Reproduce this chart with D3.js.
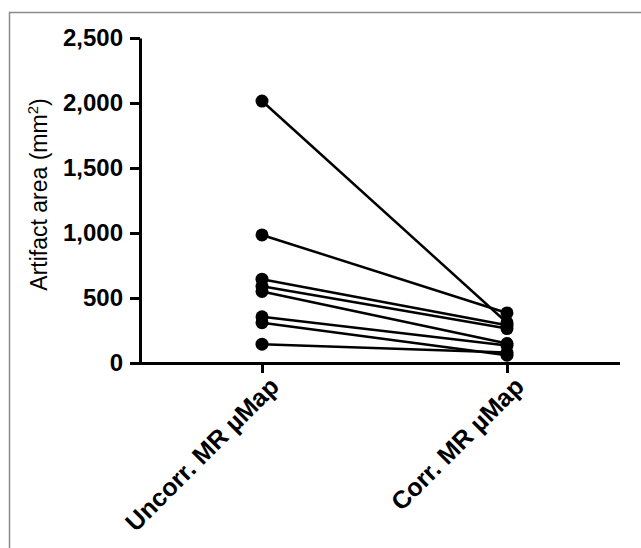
<!DOCTYPE html>
<html>
<head>
<meta charset="utf-8">
<script src="https://cdn.jsdelivr.net/npm/d3@7"></script>
<style>
  body { margin: 0; background: #fff; }
  svg { display: block; font-family: 'Liberation Sans', Arial, Helvetica, sans-serif; }
</style>
</head>
<body>
<svg id="chart" width="641" height="548"></svg>
<script>
const groups = ['Uncorr. MR \u00b5Map', 'Corr. MR \u00b5Map'];
const uncorr = [2015, 985, 645, 590, 550, 355, 310, 145];
const corr = [310, 385, 290, 265, 150, 135, 60, 80];
const yTicks = [0, 500, 1000, 1500, 2000, 2500];

const svg = d3.select('#chart');
const margin = { top: 38, left: 140, bottom: 185, right: 11 };
const width = +svg.attr('width') - margin.left - margin.right;
const height = +svg.attr('height') - margin.top - margin.bottom;

// frame
svg.append('path')
  .attr('d', 'M9.5,548 V12.5 H641')
  .attr('fill', 'none')
  .attr('stroke', '#8a8a8a')
  .attr('stroke-width', 1.5);

const g = svg.append('g').attr('transform', `translate(${margin.left},${margin.top})`);

const x = d3.scalePoint()
  .domain(groups)
  .range([122, 367]);

const y = d3.scaleLinear()
  .domain([0, 2500])
  .range([height, 0]);

const pairs = uncorr.map((v, i) => [v, corr[i]]);

// axes
const yAxis = g.append('g')
  .call(d3.axisLeft(y).tickValues(yTicks).tickFormat(d3.format(',')).tickSize(10).tickSizeOuter(0));
yAxis.select('.domain').attr('stroke-width', 3);
yAxis.selectAll('.tick line').attr('stroke-width', 3);
yAxis.selectAll('.tick text')
  .attr('font-size', 24)
  .attr('font-weight', 'bold')
  .attr('fill', '#000')
  .attr('x', -17);

const xAxis = g.append('g')
  .attr('transform', `translate(0,${height})`)
  .call(d3.axisBottom(x).tickSize(10).tickSizeOuter(0));
xAxis.select('.domain').attr('d', `M0,0.5H${width - 10}`).attr('stroke-width', 3);
xAxis.selectAll('.tick line').attr('stroke-width', 3);
xAxis.selectAll('.tick text')
  .attr('font-size', 25)
  .attr('font-weight', 'bold')
  .attr('fill', '#000')
  .attr('text-anchor', 'end')
  .attr('x', 0)
  .attr('y', 0)
  .attr('dy', 0)
  .attr('transform', 'translate(18,25) rotate(-45)');

// lines
g.append('g')
  .selectAll('line')
  .data(pairs)
  .enter()
  .append('line')
  .attr('x1', x(groups[0]))
  .attr('x2', x(groups[1]))
  .attr('y1', d => y(d[0]))
  .attr('y2', d => y(d[1]))
  .attr('stroke', '#000')
  .attr('stroke-width', 2.5);

// points
g.append('g')
  .selectAll('circle')
  .data(pairs.flatMap(d => [{ k: groups[0], v: d[0] }, { k: groups[1], v: d[1] }]))
  .enter()
  .append('circle')
  .attr('cx', d => x(d.k))
  .attr('cy', d => y(d.v))
  .attr('r', 6.5)
  .attr('fill', '#000');

// y label
const label = svg.append('text')
  .attr('transform', `translate(47,${margin.top + height / 2 - 6}) rotate(-90)`)
  .attr('text-anchor', 'middle')
  .attr('font-size', 23)
  .attr('fill', '#000')
  .text('Artifact area (mm');
label.append('tspan').attr('font-size', 15).attr('dy', -9).text('2');
label.append('tspan').attr('dy', 9).text(')');
</script>
</body>
</html>
